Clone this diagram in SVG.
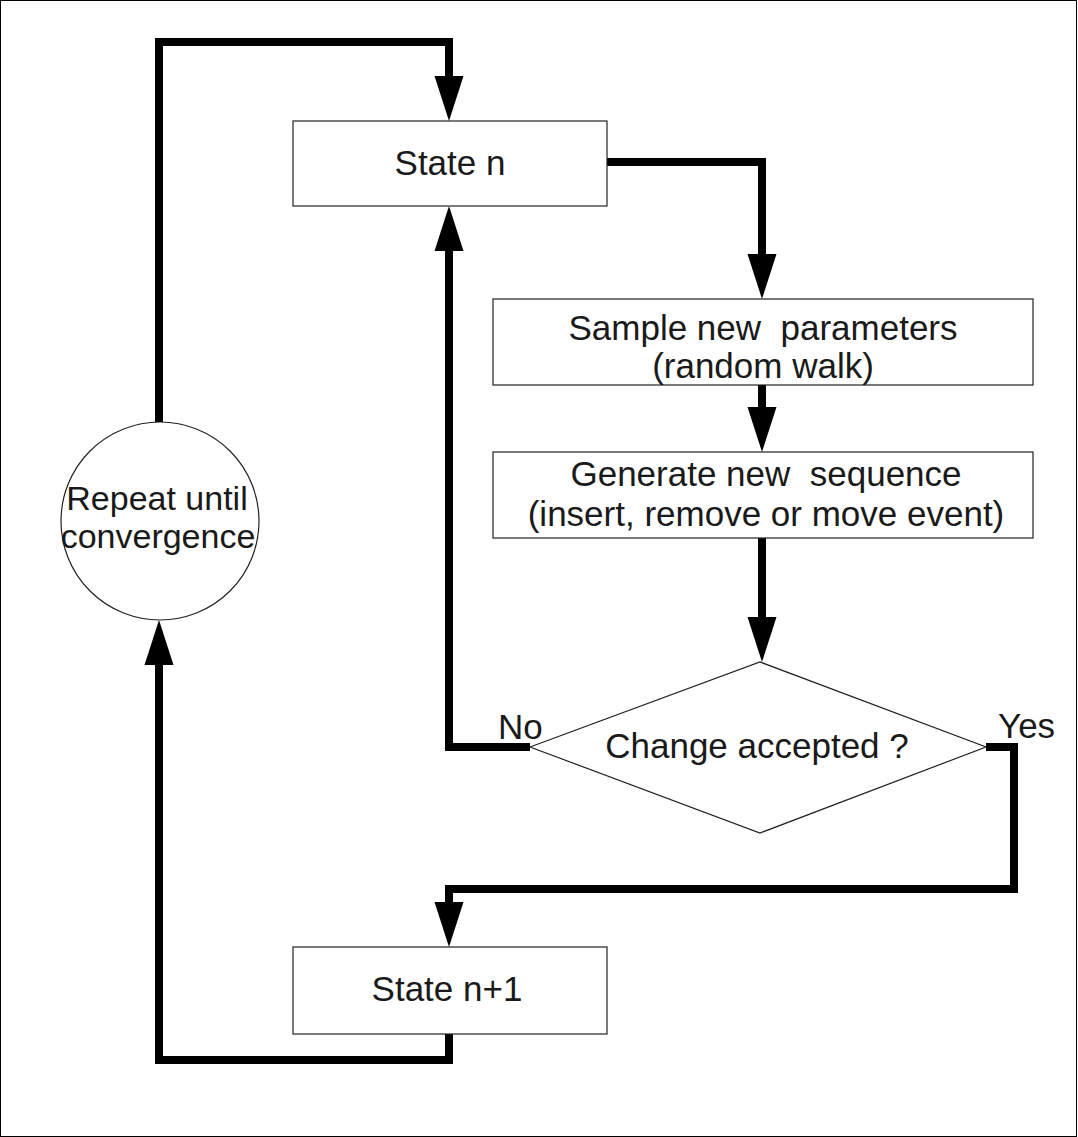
<svg xmlns="http://www.w3.org/2000/svg" width="1078" height="1137" viewBox="0 0 1078 1137">
<style>
.box{fill:#fff;stroke:#222;stroke-width:1.2}
.lbl{font-family:"Liberation Sans",Arial,sans-serif;font-size:35px;fill:#1a1a1a;text-anchor:middle;white-space:pre}
.tag{font-family:"Liberation Sans",Arial,sans-serif;font-size:35px;fill:#1a1a1a}
.conn{fill:none;stroke:#000;stroke-width:8;stroke-linejoin:miter}
</style>
<defs>
<marker id="arr" markerUnits="userSpaceOnUse" markerWidth="46" markerHeight="30" viewBox="0 -15 46 30" refX="0" refY="0" orient="auto" overflow="visible">
<path d="M0,-14.5 L45,0 L0,14.5 z" fill="#000"/>
</marker>
</defs>
<rect x="0.5" y="0.5" width="1076" height="1136" fill="#fff" stroke="#000" stroke-width="1"/>
<g id="connectors">
<path class="conn" d="M159,422 V42 H449 V76" marker-end="url(#arr)"/>
<path class="conn" d="M607,162 H762 V254" marker-end="url(#arr)"/>
<path class="conn" d="M762,385 V407" marker-end="url(#arr)"/>
<path class="conn" d="M762,538 V617" marker-end="url(#arr)"/>
<path class="conn" d="M530,747 H449 V251" marker-end="url(#arr)"/>
<path class="conn" d="M986,747 H1014 V889 H449 V902" marker-end="url(#arr)"/>
<path class="conn" d="M449,1034 V1060 H159 V665" marker-end="url(#arr)"/>
</g>
<g id="state-n">
<rect class="box" x="293" y="121" width="314" height="85"/>
<text class="lbl" x="450" y="175">State n</text>
</g>
<g id="sample">
<rect class="box" x="493" y="299" width="540" height="86"/>
<text class="lbl" x="763" y="340" xml:space="preserve">Sample new  parameters</text>
<text class="lbl" x="763" y="378">(random walk)</text>
</g>
<g id="generate">
<rect class="box" x="493" y="452" width="540" height="86"/>
<text class="lbl" x="766" y="486" xml:space="preserve">Generate new  sequence</text>
<text class="lbl" x="766" y="526">(insert, remove or move event)</text>
</g>
<g id="decision">
<polygon class="box" points="530,747 760,662 986,747 760,833"/>
<text class="lbl" x="757" y="758">Change accepted ?</text>
<text class="tag" x="498" y="739">No</text>
<text class="tag" x="998" y="738">Yes</text>
</g>
<g id="state-n1">
<rect class="box" x="293" y="947" width="314" height="87"/>
<text class="lbl" x="447" y="1001">State n+1</text>
</g>
<g id="repeat">
<circle class="box" cx="160" cy="521" r="99"/>
<text class="lbl" x="157" y="510" style="font-size:34px">Repeat until</text>
<text class="lbl" x="158" y="548" style="font-size:34px">convergence</text>
</g>
</svg>
